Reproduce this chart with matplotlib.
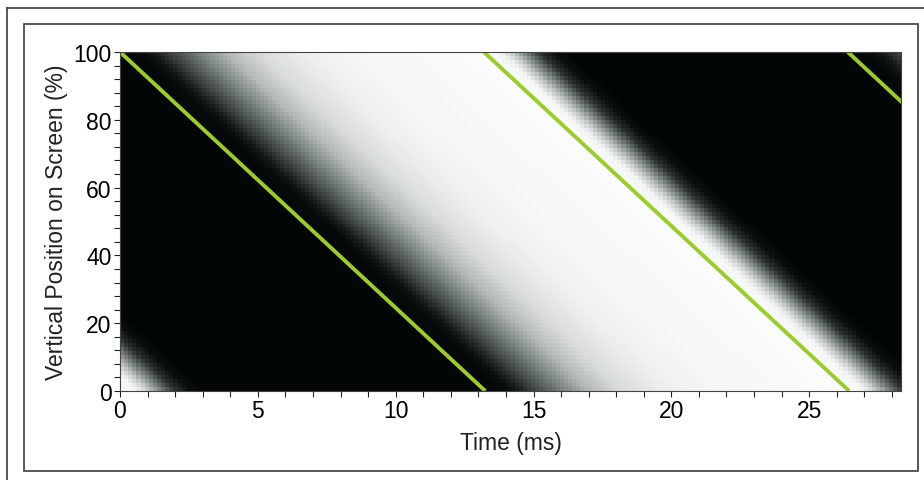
#!/usr/bin/env python
# -*- coding: utf-8 -*-

import matplotlib
matplotlib.use("Agg")
import matplotlib.pyplot as plt
import matplotlib.colors as mcolors
import matplotlib.lines as mlines
import matplotlib.patches as mpatches
from matplotlib.ticker import MultipleLocator
import numpy as np

# Scan timing (ms): when the refresh line leaves the top and reaches the bottom
scan_top_ms    = [-13.2, 0.0, 13.2, 26.4]
scan_bottom_ms = [0.05, 13.25, 26.45, 39.65]
scan_target    = [0, 1, 0, 1]          # 0 = black frame, 1 = white frame
green_lines    = [1, 2, 3]             # which scans get a green marker line

# Pixel response (time since the scan line passed, ms)
rise_t   = [0.0, 0.8, 1.2, 1.8, 2.8, 3.8, 5.0, 6.5, 8.0, 13.3]
rise_val = [0.0, 0.02, 0.08, 0.25, 0.50, 0.72, 0.86, 0.93, 0.96, 0.985]
fall_t   = [0.0, 0.6, 1.0, 1.5, 2.0, 2.5, 3.0, 13.3]
fall_val = [1.0, 0.97, 0.80, 0.50, 0.18, 0.04, 0.0, 0.0]

x_max = 28.33
x_ticks = [0, 5, 10, 15, 20, 25]
y_ticks = [0, 20, 40, 60, 80, 100]

plt.rcParams['font.family'] = ['Liberation Sans', 'DejaVu Sans']
plt.rcParams['font.size'] = 16.5

W, H = 924, 481
fig = plt.figure(figsize=(W / 100, H / 100), dpi=100)

# frame lines round the figure
edge = '#3c3c3c'
fig.add_artist(mlines.Line2D([7 / W, 7 / W], [0, 1 - 9 / H], color=edge, lw=1.2))
fig.add_artist(mlines.Line2D([7 / W, 1], [1 - 9 / H, 1 - 9 / H], color=edge, lw=1.2))
fig.add_artist(mpatches.Rectangle((24 / W, 1 - 472 / H), (918 - 24) / W, (472 - 25) / H,
                                  fill=False, ec=edge, lw=1.2))

ax = fig.add_axes([120 / W, 1 - 392 / H, (901 - 120) / W, (392 - 53) / H])

# Build the brightness field from the scan timing and the response curves
nx, ny = 190, 85
t = (np.arange(nx) + 0.5) * x_max / nx
y = (np.arange(ny) + 0.5) * 100 / ny
T, Y = np.meshgrid(t, y)
img = np.zeros_like(T)
for top, bot, tgt in zip(scan_top_ms, scan_bottom_ms, scan_target):
    ts = top + (1 - Y / 100) * (bot - top)
    dt = T - ts
    hit = dt >= 0
    if tgt == 1:
        val = np.interp(dt, rise_t, rise_val)
    else:
        val = 0.985 * np.interp(dt, fall_t, fall_val)
    img = np.where(hit, val, img)

cmap = mcolors.LinearSegmentedColormap.from_list(
    'scr', [(0.0, (0.01, 0.025, 0.025)), (0.5, (0.47, 0.50, 0.50)), (1.0, (1.0, 1.0, 1.0))])
ax.imshow(img, origin='lower', extent=[0, x_max, 0, 100], aspect='auto',
          cmap=cmap, vmin=0, vmax=1, interpolation='nearest')

for i in green_lines:
    ax.plot([scan_top_ms[i], scan_bottom_ms[i]], [100, 0], color='#9ccb2e', lw=2.8,
            solid_capstyle='butt')

ax.set_xlim(0, x_max)
ax.set_ylim(0, 100)
ax.set_xticks(x_ticks)
ax.set_yticks(y_ticks)
ax.xaxis.set_minor_locator(MultipleLocator(1))
ax.yaxis.set_minor_locator(MultipleLocator(4))
ax.tick_params(which='both', direction='out', length=4, width=0.8, color='#222222')
ax.tick_params(axis='x', pad=2)
ax.tick_params(axis='y', pad=2)
for s in ax.spines.values():
    s.set_color('#444444')
    s.set_linewidth(0.8)

ax.set_xlabel('Time (ms)', labelpad=6, color='#222222')
ax.set_ylabel('Vertical Position on Screen (%)', labelpad=4, color='#222222')

fig.savefig('out.png', dpi=100)
